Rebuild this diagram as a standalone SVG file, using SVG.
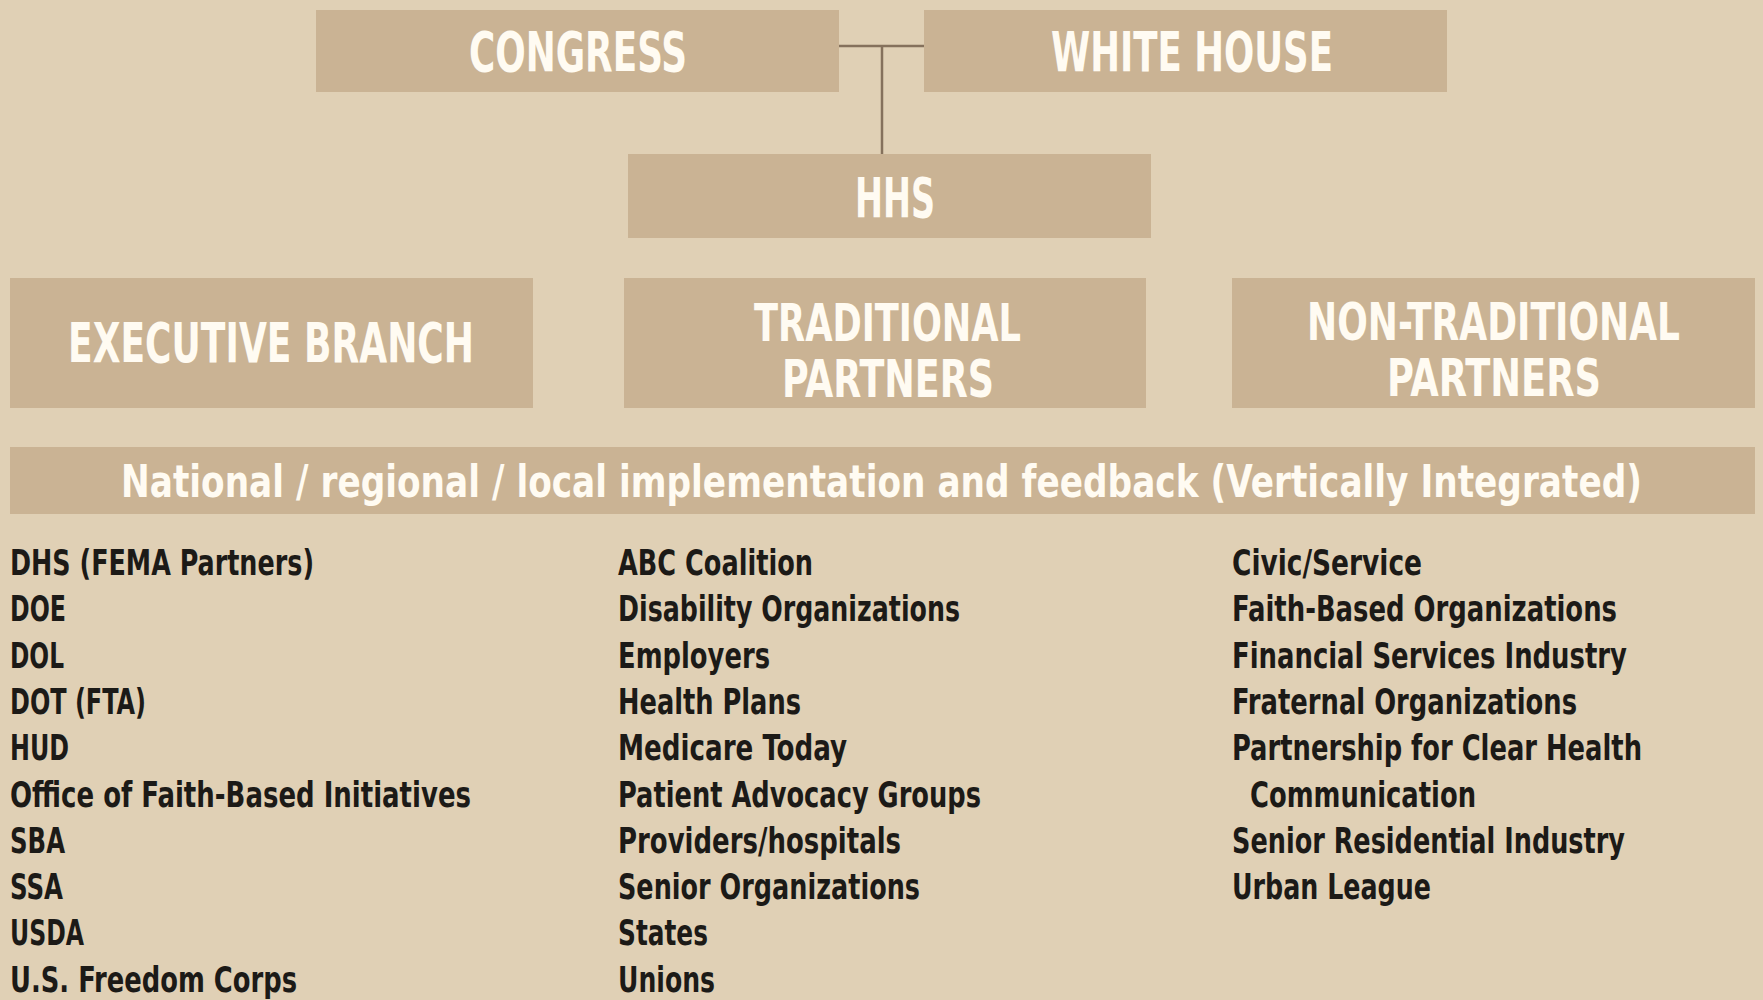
<svg xmlns="http://www.w3.org/2000/svg" width="1763" height="1000" viewBox="0 0 1763 1000">
<style>
.box{fill:#cab394}
.hd{font-family:"Liberation Sans Narrow","DejaVu Sans Condensed","Liberation Sans",sans-serif;font-weight:bold;fill:#fffbf2;font-size:56px}
.hd2{font-family:"Liberation Sans Narrow","DejaVu Sans Condensed","Liberation Sans",sans-serif;font-weight:bold;fill:#fffbf2;font-size:52px}
.nat{font-family:"Liberation Sans Narrow","DejaVu Sans Condensed","Liberation Sans",sans-serif;font-weight:bold;fill:#fffbf2;font-size:45px}
.li{font-family:"Liberation Sans Narrow","DejaVu Sans Condensed","Liberation Sans",sans-serif;font-weight:bold;fill:#1c1a17;font-size:35px}
.conn{stroke:#85715c;stroke-width:2.5;fill:none}
</style>
<rect x="0" y="0" width="1763" height="1000" fill="#e0d0b5"/>
<g id="connectors">
<path class="conn" d="M838 46 H924 M882 46 V155"/>
</g>
<g id="congress"><rect class="box" x="316" y="10" width="523" height="82"/><text class="hd" x="469" y="71" textLength="218" lengthAdjust="spacingAndGlyphs">CONGRESS</text></g>
<g id="whitehouse"><rect class="box" x="924" y="10" width="523" height="82"/><text class="hd" x="1051" y="71" textLength="282" lengthAdjust="spacingAndGlyphs">WHITE HOUSE</text></g>
<g id="hhs"><rect class="box" x="628" y="154" width="523" height="84"/><text class="hd" x="855" y="217" textLength="80" lengthAdjust="spacingAndGlyphs">HHS</text></g>
<g id="executive"><rect class="box" x="10" y="278" width="523" height="130"/><text class="hd" x="68" y="362" textLength="406" lengthAdjust="spacingAndGlyphs">EXECUTIVE BRANCH</text></g>
<g id="traditional"><rect class="box" x="624" y="278" width="522" height="130"/><text class="hd2" x="754" y="341" textLength="267" lengthAdjust="spacingAndGlyphs">TRADITIONAL</text><text class="hd2" x="782" y="397" textLength="212" lengthAdjust="spacingAndGlyphs">PARTNERS</text></g>
<g id="nontraditional"><rect class="box" x="1232" y="278" width="523" height="130"/><text class="hd2" x="1307" y="340" textLength="373" lengthAdjust="spacingAndGlyphs">NON-TRADITIONAL</text><text class="hd2" x="1387" y="396" textLength="214" lengthAdjust="spacingAndGlyphs">PARTNERS</text></g>
<g id="national"><rect class="box" x="10" y="447" width="1745" height="67"/><text class="nat" x="121" y="497" textLength="1521" lengthAdjust="spacingAndGlyphs">National / regional / local implementation and feedback (Vertically Integrated)</text></g>
<g id="list-executive">
<text class="li" x="10" y="575" textLength="304" lengthAdjust="spacingAndGlyphs">DHS (FEMA Partners)</text>
<text class="li" x="10" y="621" textLength="56" lengthAdjust="spacingAndGlyphs">DOE</text>
<text class="li" x="10" y="668" textLength="54" lengthAdjust="spacingAndGlyphs">DOL</text>
<text class="li" x="10" y="714" textLength="136" lengthAdjust="spacingAndGlyphs">DOT (FTA)</text>
<text class="li" x="10" y="760" textLength="59" lengthAdjust="spacingAndGlyphs">HUD</text>
<text class="li" x="10" y="807" textLength="461" lengthAdjust="spacingAndGlyphs">Office of Faith-Based Initiatives</text>
<text class="li" x="10" y="853" textLength="55" lengthAdjust="spacingAndGlyphs">SBA</text>
<text class="li" x="10" y="899" textLength="53" lengthAdjust="spacingAndGlyphs">SSA</text>
<text class="li" x="10" y="945" textLength="74" lengthAdjust="spacingAndGlyphs">USDA</text>
<text class="li" x="10" y="992" textLength="287" lengthAdjust="spacingAndGlyphs">U.S. Freedom Corps</text>
</g>
<g id="list-traditional">
<text class="li" x="618" y="575" textLength="195" lengthAdjust="spacingAndGlyphs">ABC Coalition</text>
<text class="li" x="618" y="621" textLength="342" lengthAdjust="spacingAndGlyphs">Disability Organizations</text>
<text class="li" x="618" y="668" textLength="152" lengthAdjust="spacingAndGlyphs">Employers</text>
<text class="li" x="618" y="714" textLength="183" lengthAdjust="spacingAndGlyphs">Health Plans</text>
<text class="li" x="618" y="760" textLength="229" lengthAdjust="spacingAndGlyphs">Medicare Today</text>
<text class="li" x="618" y="807" textLength="363" lengthAdjust="spacingAndGlyphs">Patient Advocacy Groups</text>
<text class="li" x="618" y="853" textLength="283" lengthAdjust="spacingAndGlyphs">Providers/hospitals</text>
<text class="li" x="618" y="899" textLength="302" lengthAdjust="spacingAndGlyphs">Senior Organizations</text>
<text class="li" x="618" y="945" textLength="90" lengthAdjust="spacingAndGlyphs">States</text>
<text class="li" x="618" y="992" textLength="97" lengthAdjust="spacingAndGlyphs">Unions</text>
</g>
<g id="list-nontraditional">
<text class="li" x="1232" y="575" textLength="190" lengthAdjust="spacingAndGlyphs">Civic/Service</text>
<text class="li" x="1232" y="621" textLength="385" lengthAdjust="spacingAndGlyphs">Faith-Based Organizations</text>
<text class="li" x="1232" y="668" textLength="395" lengthAdjust="spacingAndGlyphs">Financial Services Industry</text>
<text class="li" x="1232" y="714" textLength="345" lengthAdjust="spacingAndGlyphs">Fraternal Organizations</text>
<text class="li" x="1232" y="760" textLength="410" lengthAdjust="spacingAndGlyphs">Partnership for Clear Health</text>
<text class="li" x="1250" y="807" textLength="226" lengthAdjust="spacingAndGlyphs">Communication</text>
<text class="li" x="1232" y="853" textLength="393" lengthAdjust="spacingAndGlyphs">Senior Residential Industry</text>
<text class="li" x="1232" y="899" textLength="199" lengthAdjust="spacingAndGlyphs">Urban League</text>
</g>
</svg>
